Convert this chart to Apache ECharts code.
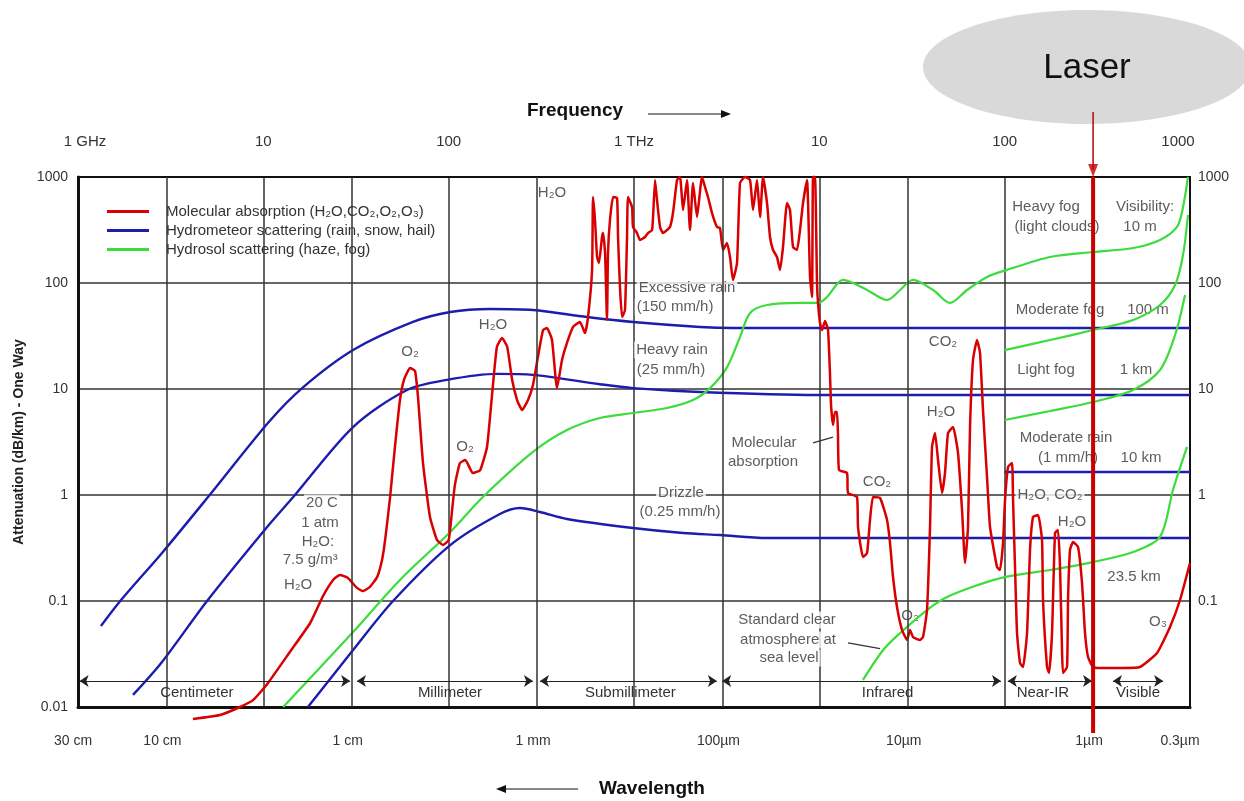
<!DOCTYPE html>
<html>
<head>
<meta charset="utf-8">
<title>Atmospheric attenuation</title>
<script src="https://cdn.jsdelivr.net/npm/echarts/dist/echarts.min.js"></script>
<style>
html,body{margin:0;padding:0;background:#fff;}
#chart{width:1244px;height:801px;}
</style>
</head>
<body>
<div id="chart"></div>
<script>
// frequency in GHz, attenuation in dB/km
var topTickLabels = ['1 GHz', '10', '100', '1 THz', '10', '100', '1000'];
var gridFreq = [3, 30, 300, 3000, 30000, 300000];
var waveFreq = [1, 3, 30, 300, 3000, 30000, 300000, 1000000];
var waveLabels = ['30 cm', '10 cm', '1 cm', '1 mm', '100µm', '10µm', '1µm', '0.3µm'];

// molecular absorption (red)
var molFreq = [4.17, 5.84, 7.48, 8.80, 10.5, 13.9, 17.9, 21.0, 23.8, 25.9, 28.6, 32.0, 34.5, 37.6, 41.1, 43.7, 45.4, 48.3, 51.3, 54.6,
	57.4, 61.9, 65.8, 68.3, 72.7, 79.3, 86.5, 93.2, 100, 104, 108, 115, 123, 135, 148, 161, 171, 182, 194, 207,
	220, 234, 249, 268, 285, 303, 323, 339, 361, 384, 409, 435, 469, 511, 544, 565,
	594, 601, 616, 632, 647, 672, 681, 698, 715, 724, 742, 771, 810, 820, 840, 862, 894, 917, 928, 976,
	988, 1038, 1078, 1147, 1190, 1251, 1267, 1299, 1331, 1382, 1434, 1507, 1564, 1623, 1707, 1771, 1839, 1932, 2005, 2082,
	2188, 2328, 2416, 2508, 2636, 2805, 2911, 3022, 3176, 3297, 3421, 3596, 3733, 3972, 4227, 4387, 4611, 4786, 4968, 5221,
	5418, 5625, 5910, 6135, 6368, 6692, 6946, 7211, 7578, 7866, 8166, 8581, 8906, 9131, 9245, 9478, 9716,
	9838, 10085, 10340, 10730, 11140, 11420, 11565, 11850, 12150, 12455, 12610, 12770, 14105, 14280, 15970, 16170, 17210, 18090, 18770, 19490,
	21260, 23190, 24070, 24980, 26250, 27930, 29730, 30850, 32030, 34930, 36260, 38110, 39560, 40550, 42100, 43700, 45910, 47660, 49480, 52640,
	56010, 58880, 61110, 63420, 65020, 67490, 70930, 73620, 76400, 80310, 83370, 90930, 94370, 97970, 100460, 104250, 109580, 110960, 113730, 116590,
	121020, 125610, 132040, 137040, 142240, 151360, 159080, 161060, 169260, 173520, 180100, 186940, 194060, 198940, 203930, 206480, 217010, 219730, 225260, 233830,
	248790, 261450, 271370, 281700, 299800, 327040, 435100, 537400, 663700, 780200, 883400, 1000000];
var molAtten = [0.0077, 0.0084, 0.01, 0.0116, 0.0165, 0.033, 0.062, 0.1115, 0.158, 0.176, 0.165, 0.133, 0.124, 0.136, 0.168, 0.244, 0.376, 0.957, 2.84, 7.87,
	12.2, 15.8, 14.8, 8.40, 2.00, 0.620, 0.376, 0.338, 0.376, 0.676, 1.24, 2.00, 2.14, 1.61, 1.72, 2.84, 8.40, 24.9, 30.3, 24.9,
	12.2, 7.87, 6.34, 7.87, 10.9, 20.0, 36.0, 37.6, 29.0, 10.2, 18.8, 27.2, 38.5, 42.9, 33.7, 47.8,
	132.6, 647.7, 392.9, 175.9, 154.4, 271.6, 296.2, 191.9, 44.8, 191.9, 392.9, 647.7, 633.4, 271.6, 91.7, 47.8, 55.6, 271.6, 647.7, 521.2,
	337.5, 296.2, 254.5, 271.6, 296.2, 316.2, 419.4, 936.9, 606.7, 337.5, 296.2, 316.2, 337.5, 457.3, 936.9, 1000, 488.3, 936.9, 316.2, 877.9,
	419.4, 1000, 804.6, 647.7, 457.3, 337.5, 330.3, 204.8, 238.5, 175.9, 106.7, 154.4, 877.9, 1000, 936.9, 488.3, 936.9, 419.4, 1000, 568.5,
	271.6, 204.8, 175.9, 132.6, 218.6, 568.5, 488.3, 218.6, 204.8, 316.2, 568.5, 936.9, 113.9, 73.8, 1000, 1000, 100,
	64.8, 41.9, 36.0, 43.8, 36.0, 13.56, 7.06, 4.575, 6.07, 6.07, 3.68, 1.721, 1.613, 1.044, 0.957, 0.499, 0.260, 0.284, 0.581, 0.957,
	0.937, 0.581, 0.3525, 0.1684, 0.0878, 0.0533, 0.0429, 0.0533, 0.0457, 0.0429, 0.0457, 0.0822, 0.499, 2.837, 3.846, 2.138, 1.044, 1.613, 3.846, 4.38,
	2.49, 0.722, 0.2283, 0.499, 4.38, 18.77, 29.0, 21.86, 6.34, 1.478, 0.499, 0.2094, 0.196, 0.3525, 0.897, 1.837, 2.004, 0.897, 0.2094, 0.0499,
	0.0260, 0.02384, 0.0499, 0.303, 0.620, 0.648, 0.376, 0.1022, 0.02384, 0.02093, 0.0499, 0.438, 0.4677, 0.2094, 0.0345, 0.02093, 0.02384, 0.1022, 0.303, 0.360,
	0.323, 0.1479, 0.0499, 0.02963, 0.02384, 0.02333, 0.02333, 0.02384, 0.0323, 0.0569, 0.1022, 0.2283];

// hydrometeor scattering (blue)
var rain150Freq = [1.33, 1.69, 2.84, 5.03, 10.7, 16.2, 30.5, 64.2, 102, 167, 285, 558, 988, 2270, 3420, 9720, 1000000];
var rain150Atten = [0.058, 0.1, 0.284, 0.957, 4.88, 10.2, 23.3, 42.9, 53.2, 56.9, 55.6, 47.8, 42.9, 38.5, 37.6, 37.6, 37.6];
var rain25Freq = [1.98, 2.84, 4.97, 10.7, 14.5, 30.5, 59.6, 97.9, 182, 285, 655, 988, 2270, 9720, 1000000];
var rain25Atten = [0.013, 0.0266, 0.1, 0.521, 0.957, 4.38, 9.79, 12.2, 13.9, 13.6, 11.1, 10.2, 9.37, 8.78, 8.78];
var drizzleFreq = [17.4, 30.5, 50.1, 102, 189, 243, 311, 435, 988, 1840, 2910, 5220, 10100, 1000000];
var drizzleAtten = [0.01, 0.0345, 0.1, 0.337, 0.662, 0.753, 0.691, 0.594, 0.488, 0.438, 0.419, 0.393, 0.393, 0.393];
var rain1Freq = [100000, 1000000];
var rain1Atten = [1.65, 1.65];

// hydrosol scattering (green)
var fogHeavyFreq = [12.8, 30.5, 54.6, 102, 153, 285, 435, 655, 988, 1510, 2080, 2570, 3180, 3730, 4230, 5220, 7870, 9840, 11000, 13400,
	15200, 18100, 23200, 27300, 32000, 41100, 50700, 62700, 80300, 103000, 176000, 300000, 493000, 689000, 851000, 917000, 975000];
var fogHeavyAtten = [0.01, 0.051, 0.158, 0.448, 0.957, 2.55, 4.1, 5.33, 5.94, 6.62, 7.87, 10.2, 16.1, 30.9, 52.1, 62.0, 64.8, 64.8, 73.8, 107,
	100, 85.9, 69.1, 85.9, 107, 85.9, 64.8, 85.9, 114, 133, 176, 196, 214, 255, 338, 521, 1000];
var fogModFreq = [100000, 176000, 300000, 493000, 689000, 831000, 917000, 975000];
var fogModAtten = [23.3, 29.0, 36.0, 44.8, 62.0, 95.7, 184, 438];
var fogLightFreq = [100000, 176000, 300000, 493000, 689000, 831000, 940000];
var fogLightAtten = [5.1, 6.2, 7.54, 9.79, 15.1, 32.3, 77.1];
var clearFreq = [17200, 22100, 27300, 38100, 48900, 69200, 100000, 176000, 300000, 493000, 689000, 810000, 964000];
var clearAtten = [0.018, 0.0345, 0.0499, 0.0822, 0.109, 0.1385, 0.168, 0.196, 0.233, 0.29, 0.402, 1.12, 2.84];

// spectral bands along the bottom
var bandNames = ['Centimeter', 'Millimeter', 'Submillimeter', 'Infrared', 'Near-IR', 'Visible'];
var bandFrom = [1.02, 32, 311, 2990, 104000, 384000];
var bandTo = [29.4, 285, 2800, 95500, 296000, 716000];
var bandAtten = 0.0176;

// text notes inside the plot
var noteText = ['H₂O', 'H₂O', 'O₂', 'O₂', '20 C', '1 atm', 'H₂O:', '7.5 g/m³', 'H₂O',
	'Excessive rain', '(150 mm/h)', 'Heavy rain', '(25 mm/h)', 'Molecular', 'absorption', 'Drizzle', '(0.25 mm/h)',
	'Standard clear', 'atmosphere at', 'sea level', 'CO₂', 'H₂O', 'CO₂', 'O₂',
	'Heavy fog', '(light clouds)', 'Visibility:', '10 m', 'Moderate fog', '100 m', 'Light fog', '1 km',
	'Moderate rain', '(1 mm/h)', '10 km', 'H₂O, CO₂', 'H₂O', '23.5 km', 'O₃'];
var noteFreq = [361, 173.5, 61.9, 122.5, 20.7, 20.2, 19.7, 17.9, 15.4,
	1932, 1665, 1604, 1584, 5030, 4968, 1793, 1771,
	6692, 6776, 6861, 46480, 45350, 20480, 30850,
	167150, 191700, 571900, 537400, 198940, 593600, 167150, 511400,
	214300, 219730, 544100, 175700, 230900, 498900, 672000];
var noteAtten = [706, 40.2, 22.3, 2.84, 0.84, 0.544, 0.36, 0.244, 0.142,
	89.7, 59.4, 23.3, 15.1, 3.10, 2.05, 1.044, 0.691,
	0.0662, 0.0429, 0.029, 27.8, 6.07, 1.33, 0.0722,
	521, 337, 521, 337, 55.6, 55.6, 15.1, 15.1,
	3.45, 2.23, 2.23, 1.0, 0.556, 0.168, 0.0634];
// leader lines from "Molecular absorption" and "Standard clear atmosphere"
var pointerFreq = [[9245, 11850], [14280, 21260]];
var pointerAtten = [[3.10, 3.52], [0.0402, 0.0355]];

// laser wavelength (1 µm)
var laserFreq = 300000;

var FONT = 'Liberation Sans, Arial, sans-serif';
var TXT = '#333';
var RED = '#d80000', BLUE = '#1c1caf', GREEN = '#3cdc3c';
var NAME_MOL = 'Molecular absorption (H₂O,CO₂,O₂,O₃)';
var NAME_RAIN = 'Hydrometeor scattering (rain, snow, hail)';
var NAME_FOG = 'Hydrosol scattering (haze, fog)';

function zip(fs, as) {
	return fs.map(function(f, i) { return [f, as[i]]; });
}
function curve(name, color, fs, as, width, z) {
	return {
		name: name, type: 'line', data: zip(fs, as), showSymbol: false, smooth: 0.3,
		color: color, lineStyle: {color: color, width: width}, z: z, silent: true
	};
}
function attenLabel(v) {
	return v >= 1 ? String(Math.round(v)) : String(+v.toPrecision(1));
}

var chart = echarts.init(document.getElementById('chart'));

// wavelength ticks: grid line + label under the plot
var waveLines = waveFreq.map(function(f, i) {
	var last = waveFreq.length - 1;
	var hidden = (i === 0 || i === last || gridFreq.indexOf(f) < 0);
	return {
		xAxis: f,
		lineStyle: {color: hidden ? 'rgba(0,0,0,0)' : '#333'},
		label: {formatter: waveLabels[i], offset: i === 0 ? [-5, 0] : (i === last ? [-10, 0] : [-4, 0])}
	};
});
var bandShift = [-18, 5, 2, 26, -7, 0];
var bandLines = bandNames.map(function(n, i) {
	return [
		{coord: [bandFrom[i], bandAtten], label: {formatter: n, offset: [bandShift[i], 0]}},
		{coord: [bandTo[i], bandAtten]}
	];
});
var pointerLines = pointerFreq.map(function(p, i) {
	return [{coord: [p[0], pointerAtten[i][0]]}, {coord: [p[1], pointerAtten[i][1]]}];
});

var series = [
	{
		type: 'line', data: [], z: 1, silent: true,
		markLine: {
			symbol: 'none', silent: true, animation: false,
			lineStyle: {color: '#333', width: 1.5, type: 'solid'},
			label: {position: 'start', distance: 27, color: TXT, fontSize: 14, fontFamily: FONT},
			data: waveLines
		}
	},
	{
		type: 'line', data: [], z: 2, silent: true,
		markLine: {
			symbol: ['arrow', 'arrow'], symbolSize: 9, silent: true, animation: false,
			lineStyle: {color: '#222', width: 1, type: 'solid'},
			label: {position: 'insideMiddleBottom', distance: 4, color: TXT, fontSize: 15, fontFamily: FONT},
			data: bandLines
		}
	},
	{
		type: 'scatter', z: 2, silent: true, symbolSize: 0,
		data: noteText.map(function(t, i) { return {name: t, value: [noteFreq[i], noteAtten[i]]}; }),
		label: {
			show: true, position: 'inside', formatter: '{b}', color: TXT, fontSize: 15, fontFamily: FONT,
			backgroundColor: '#fff', padding: [1, 2]
		},
		markLine: {
			symbol: 'none', silent: true, animation: false,
			lineStyle: {color: '#333', width: 1.2, type: 'solid'},
			label: {show: false},
			data: pointerLines
		}
	},
	curve(NAME_RAIN, BLUE, rain150Freq, rain150Atten, 2.4, 3),
	curve(NAME_RAIN, BLUE, rain25Freq, rain25Atten, 2.4, 3),
	curve(NAME_RAIN, BLUE, drizzleFreq, drizzleAtten, 2.4, 3),
	curve(NAME_RAIN, BLUE, rain1Freq, rain1Atten, 2.4, 3),
	curve(NAME_FOG, GREEN, fogHeavyFreq, fogHeavyAtten, 2.2, 3),
	curve(NAME_FOG, GREEN, fogModFreq, fogModAtten, 2.2, 3),
	curve(NAME_FOG, GREEN, fogLightFreq, fogLightAtten, 2.2, 3),
	curve(NAME_FOG, GREEN, clearFreq, clearAtten, 2.2, 3)
];
var mol = curve(NAME_MOL, RED, molFreq, molAtten, 2.5, 4);
mol.smooth = 0.15;
mol.clip = false;
series.push(mol);

// laser marker
series.push({
	type: 'line', data: [[laserFreq, 4100], [laserFreq, 1180]], showSymbol: false, clip: false,
	lineStyle: {color: '#c00000', width: 1.5}, z: 10, silent: true
});
series.push({
	type: 'line', data: [[laserFreq, 1000], [laserFreq, 0.0057]], showSymbol: false, clip: false,
	lineStyle: {color: '#c80000', width: 4}, z: 10, silent: true
});
series.push({
	type: 'scatter', data: [[laserFreq, 1150]], symbol: 'triangle', symbolRotate: 180, symbolSize: [10, 13],
	itemStyle: {color: '#c00000'}, clip: false, z: 10, silent: true
});

var topRich = {
	first: {padding: [0, 0, 0, 14], color: TXT, fontSize: 15, fontFamily: FONT},
	last: {padding: [0, 24, 0, 0], color: TXT, fontSize: 15, fontFamily: FONT}
};

var option = {
	animation: false,
	backgroundColor: '#fff',
	textStyle: {fontFamily: FONT},
	grid: {left: 78, right: 54, top: 177, bottom: 94, show: true, borderColor: '#111', borderWidth: 2, backgroundColor: 'transparent'},
	legend: {
		data: [NAME_MOL, NAME_RAIN, NAME_FOG],
		orient: 'vertical', left: 107, top: 203, padding: 0, itemGap: 2,
		icon: 'rect', itemWidth: 42, itemHeight: 3,
		selectedMode: false,
		textStyle: {color: TXT, fontSize: 15, fontFamily: FONT, lineHeight: 17, padding: [0, 0, 0, 12]}
	},
	xAxis: [
		{
			type: 'log', logBase: 10, min: 1, max: 1000000, position: 'bottom',
			axisLine: {show: true, lineStyle: {color: '#111', width: 3}},
			axisTick: {show: false}, axisLabel: {show: false},
			splitLine: {show: true, lineStyle: {color: '#333', width: 1.5}}
		},
		{
			type: 'log', logBase: 10, min: 1, max: 1000000, position: 'top',
			axisLine: {show: true, lineStyle: {color: '#111', width: 2}},
			axisTick: {show: false}, splitLine: {show: false},
			axisLabel: {
				margin: 28, color: TXT, fontSize: 15, fontFamily: FONT, rich: topRich,
				formatter: function(v) {
					var k = Math.round(Math.log10(v));
					var s = topTickLabels[k] || '';
					if (k === 0) return '{first|' + s + '}';
					if (k === topTickLabels.length - 1) return '{last|' + s + '}';
					return s;
				}
			}
		}
	],
	yAxis: [
		{
			type: 'log', logBase: 10, min: 0.01, max: 1000, position: 'left',
			name: 'Attenuation (dB/km) - One Way', nameLocation: 'middle', nameRotate: 90, nameGap: 52,
			nameTextStyle: {color: '#222', fontSize: 14, fontWeight: 'bold', fontFamily: FONT},
			axisLine: {show: true, lineStyle: {color: '#111', width: 3}},
			axisTick: {show: false},
			axisLabel: {margin: 10, color: TXT, fontSize: 14, fontFamily: FONT, formatter: attenLabel},
			splitLine: {show: true, lineStyle: {color: '#333', width: 1.5}}
		},
		{
			type: 'log', logBase: 10, min: 0.01, max: 1000, position: 'right',
			axisLine: {show: true, lineStyle: {color: '#111', width: 2}},
			axisTick: {show: false}, splitLine: {show: false},
			axisLabel: {
				margin: 8, color: TXT, fontSize: 14, fontFamily: FONT,
				formatter: function(v) { return v < 0.05 ? '' : attenLabel(v); }
			}
		}
	],
	graphic: [
		{type: 'ellipse', shape: {cx: 1087, cy: 67, rx: 164, ry: 57}, style: {fill: '#d9d9d9'}, z: 0},
		{type: 'text', x: 1087, y: 68, style: {text: 'Laser', fontSize: 35, fontFamily: FONT, fill: '#111', align: 'center', verticalAlign: 'middle'}, z: 1},
		{type: 'text', x: 575, y: 111, style: {text: 'Frequency', fontSize: 19, fontWeight: 'bold', fontFamily: FONT, fill: '#111', align: 'center', verticalAlign: 'middle'}},
		{type: 'line', shape: {x1: 648, y1: 114, x2: 724, y2: 114}, style: {stroke: '#111', lineWidth: 1.2}},
		{type: 'polygon', shape: {points: [[731, 114], [721, 110], [721, 118]]}, style: {fill: '#111'}},
		{type: 'text', x: 652, y: 789, style: {text: 'Wavelength', fontSize: 19, fontWeight: 'bold', fontFamily: FONT, fill: '#111', align: 'center', verticalAlign: 'middle'}},
		{type: 'line', shape: {x1: 504, y1: 789, x2: 578, y2: 789}, style: {stroke: '#111', lineWidth: 1.2}},
		{type: 'polygon', shape: {points: [[496, 789], [506, 785], [506, 793]]}, style: {fill: '#111'}}
	],
	series: series
};
chart.setOption(option);
</script>
</body>
</html>
